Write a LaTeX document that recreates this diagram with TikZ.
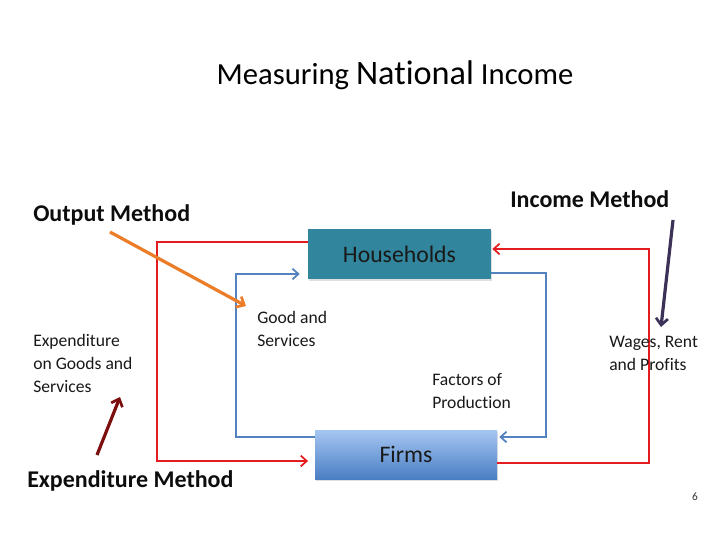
\documentclass[tikz,border=0pt]{standalone}
\usepackage{fontspec}
\setmainfont{Carlito}[Ligatures=NoCommon]
\usetikzlibrary{arrows.meta,shadows}
\definecolor{hhteal}{RGB}{49,133,156}
\definecolor{firmtop}{RGB}{165,198,242}
\definecolor{firmbot}{RGB}{74,126,195}
\definecolor{flowred}{RGB}{228,28,32}
\definecolor{flowblue}{RGB}{84,130,190}
\definecolor{outorange}{RGB}{236,125,40}
\definecolor{expred}{RGB}{125,14,14}
\definecolor{incpurple}{RGB}{60,50,88}
\tikzset{
  boxnode/.style={rectangle, inner sep=0pt, text=black!90,
     font=\fontsize{17.8}{20}\selectfont,
     drop shadow={shadow xshift=0.8pt, shadow yshift=-1.2pt, opacity=0.25}},
  flowred/.style={draw=flowred, line width=1.5pt, -{Straight Barb[length=4.5pt,width=8pt,line width=1.3pt]}},
  flowblue/.style={draw=flowblue, line width=1.5pt, -{Straight Barb[length=4.5pt,width=8pt,line width=1.3pt]}},
  methodarrow/.style={line width=2.4pt, -{Straight Barb[length=5pt,width=9pt,line width=2pt]}},
  smalltext/.style={inner sep=0pt, anchor=base west, align=left,
     font=\fontsize{13.2}{17}\selectfont, text=black!90},
  methodtext/.style={inner sep=0pt, anchor=base west,
     font=\fontsize{18}{21}\selectfont\bfseries, text=black!95},
}
\begin{document}
\begin{tikzpicture}[x=0.75pt,y=-0.75pt]
\useasboundingbox[fill=white] (0,0) rectangle (728,546);

% title
\node[inner sep=0pt, anchor=base] (title) at (395,84)
  {\fontsize{23}{27}\selectfont Measuring {\fontsize{25.7}{27}\selectfont National} Income};

% boxes
\node[boxnode, fill=hhteal, minimum width=137.25pt, minimum height=37.5pt] (hh) at (399.5,254) {Households};
\node[boxnode, top color=firmtop, bottom color=firmbot, minimum width=136.5pt, minimum height=36.75pt] (ff) at (406,454.5) {Firms};

% corner coordinates
\coordinate (rl1) at (157,242);
\coordinate (rl2) at (157,461);
\coordinate (bl1) at (236,437);
\coordinate (bl2) at (236,274);
\coordinate (br1) at (546,273);
\coordinate (br2) at (546,437);
\coordinate (rr1) at (649,463);
\coordinate (rr2) at (649,249);

% red outer left loop: households -> firms
\draw[flowred, shorten >=5pt] (hh.west |- rl1) -- (rl1) -- (rl2) -- (ff.west |- rl2);
% blue inner left loop: firms -> households
\draw[flowblue, shorten >=6pt] (ff.west |- bl1) -- (bl1) -- (bl2) -- (hh.west |- bl2);
% blue inner right loop: households -> firms
\draw[flowblue, shorten >=1.5pt] (hh.east |- br1) -- (br1) -- (br2) -- (ff.east |- br2);
% red outer right loop: firms -> households
\draw[flowred, shorten >=0.8pt] (ff.east |- rr1) -- (rr1) -- (rr2) -- (hh.east |- rr2);

% labels (anchor = baseline of last line)
\node[smalltext] (gs) at (257,346) {Good and\\Services};
\node[smalltext] (eg) at (33,392) {Expenditure\\on Goods and\\Services};
\node[smalltext] (fp) at (432,408) {Factors of\\Production};
\node[smalltext] (wr) at (609,370) {Wages, Rent\\and Profits};

% method labels
\node[methodtext] (om) at (33,221) {Output Method};
\node[methodtext] (em) at (27,487) {Expenditure Method};
\node[methodtext] (im) at (510,207) {Income Method};

\coordinate (oa1) at (110,232);
\coordinate (oa2) at (246,306);
\coordinate (ea1) at (97,455);
\coordinate (ea2) at (120,397);
\coordinate (ia1) at (673,220);
\coordinate (ia2) at (661,327);
\draw[methodarrow, draw=outorange] (oa1) -- (oa2);
\draw[methodarrow, draw=expred] (ea1) -- (ea2);
\draw[methodarrow, draw=incpurple] (ia1) -- (ia2);

% page number
\node[inner sep=0pt, anchor=base, font=\fontsize{8.5}{10}\selectfont, text=black!80] (pg) at (695,500) {6};
\end{tikzpicture}
\end{document}
